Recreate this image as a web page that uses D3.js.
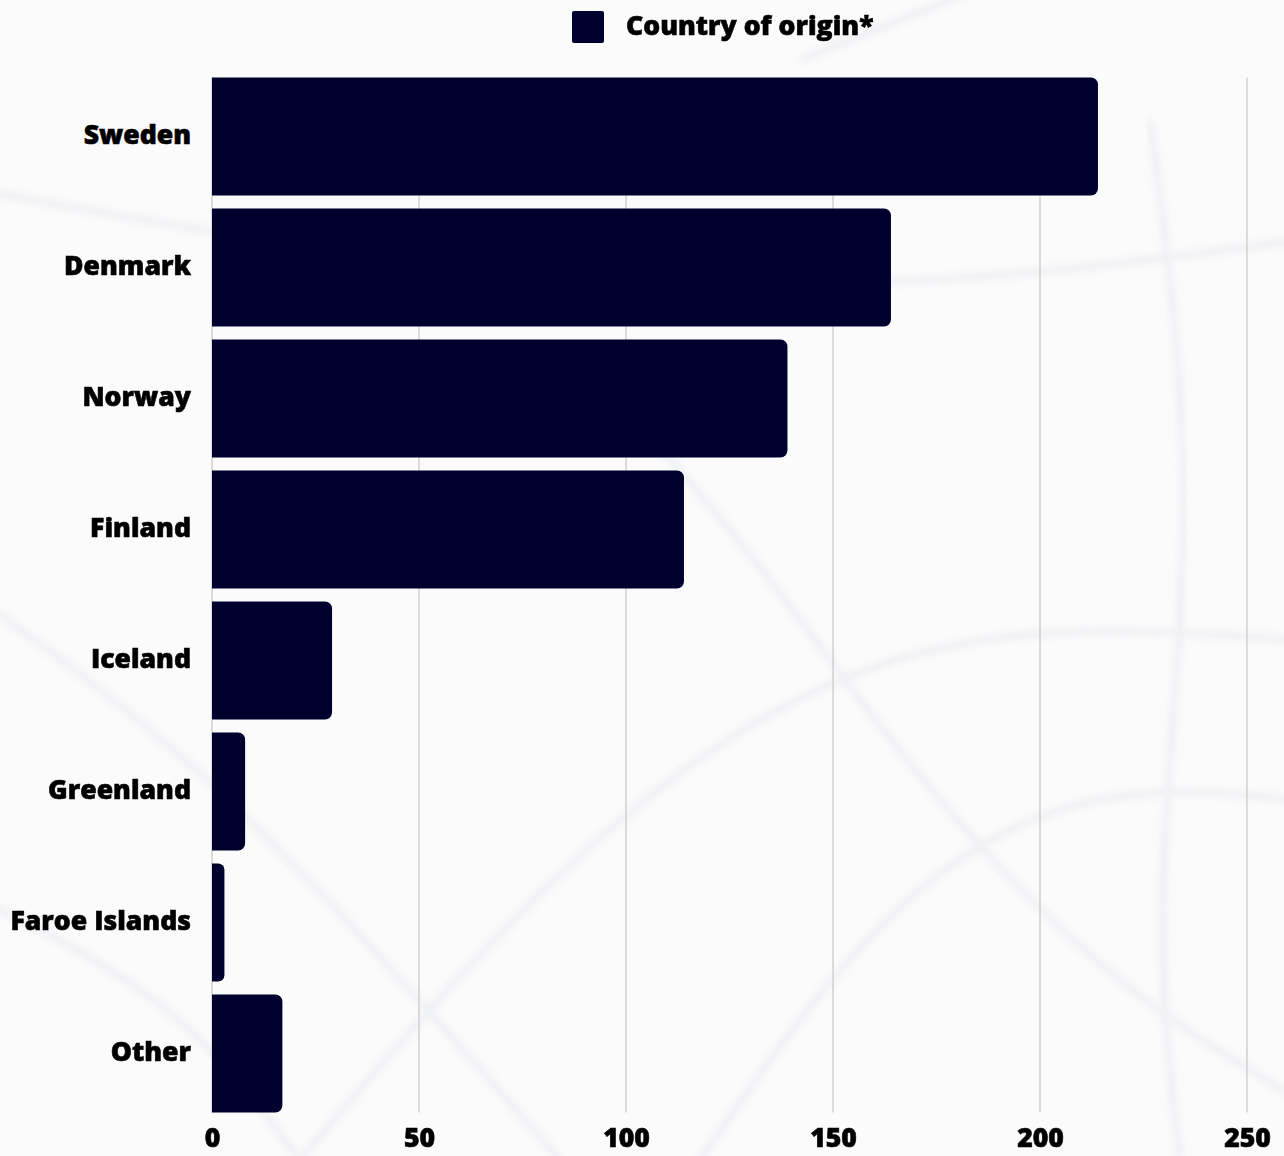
<!DOCTYPE html>
<html>
<head>
<meta charset="utf-8">
<script src="https://cdn.jsdelivr.net/npm/d3@7"></script>
<style>
  html, body { margin: 0; padding: 0; background: #fbfbfc; }
  svg { display: block; }
  text { font-family: "Open Sans", "Noto Sans", sans-serif; font-weight: 800; fill: #000; }
</style>
</head>
<body>
<svg id="chart" width="1284" height="1156"></svg>
<script>
// Nordic country of origin counts
const categories = ["Sweden", "Denmark", "Norway", "Finland", "Iceland", "Greenland", "Faroe Islands", "Other"];
const values = [214, 164, 139, 114, 29, 8, 3, 17];
const xTicks = [0, 50, 100, 150, 200, 250];
const seriesName = "Country of origin*";

const W = 1284, H = 1156;
const barColor = "#00002e";
const svg = d3.select("#chart");

// faint decorative wire curves in the backdrop
const bg = svg.append("g").attr("opacity", 0.45);
const defs = svg.append("defs");
defs.append("filter").attr("id", "soft").append("feGaussianBlur").attr("stdDeviation", 3);
const wire = d3.line().curve(d3.curveBasis);
const wires = [
  [[-20, 190], [300, 250], [700, 290], [1000, 280], [1300, 240]],
  [[-20, 600], [200, 760], [420, 1000], [560, 1160]],
  [[300, 1160], [520, 900], [760, 700], [1000, 620], [1300, 640]],
  [[600, 380], [760, 560], [900, 760], [1100, 980], [1300, 1100]],
  [[700, 1160], [880, 900], [1080, 780], [1300, 800]],
  [[-20, 900], [180, 1000], [300, 1160]],
  [[800, 60], [1000, -20]],
  [[1150, 120], [1200, 500], [1150, 900], [1180, 1160]]
];
bg.selectAll("path").data(wires).join("path")
  .attr("d", wire)
  .attr("fill", "none")
  .attr("stroke", "#e3e5e9")
  .attr("stroke-width", 8)
  .attr("filter", "url(#soft)");

const x = d3.scaleLinear().domain([0, 250]).range([212, 1247]);
const y = d3.scaleBand().domain(categories).range([71, 1119]).paddingInner(0.1).paddingOuter(0.05);

const gridTop = y(categories[0]);
const gridBottom = y(categories[categories.length - 1]) + y.bandwidth();

// vertical gridlines
svg.append("g").selectAll("line").data(xTicks).join("line")
  .attr("x1", d => x(d)).attr("x2", d => x(d))
  .attr("y1", gridTop).attr("y2", gridBottom)
  .attr("stroke", "#c6c6c6").attr("stroke-width", 1.2);

// bars with rounded right end
function barPath(x0, x1, y0, h, r) {
  const w = x1 - x0;
  r = Math.min(r, w / 2, h / 2);
  return `M${x0},${y0}H${x1 - r}A${r},${r} 0 0 1 ${x1},${y0 + r}` +
         `V${y0 + h - r}A${r},${r} 0 0 1 ${x1 - r},${y0 + h}H${x0}Z`;
}
svg.append("g").selectAll("path").data(categories).join("path")
  .attr("d", (c, i) => barPath(x(0), x(values[i]), y(c), y.bandwidth(), 7))
  .attr("fill", barColor);

function styleLabels(sel) {
  sel.attr("font-size", 26.6).attr("fill", "#000")
    .attr("stroke", "#000").attr("stroke-width", 0.6)
    .style("font-family", "'Open Sans', sans-serif").style("font-weight", 800);
}

// category labels
const yAxis = d3.axisLeft(y).tickSize(0).tickPadding(0);
const gy = svg.append("g").attr("transform", "translate(191,0)").call(yAxis);
gy.select(".domain").remove();
gy.selectAll("text").attr("dy", "0.29em").call(styleLabels);

// value axis labels
const xAxis = d3.axisBottom(x).tickValues(xTicks).tickSize(0).tickPadding(0);
const gx = svg.append("g").attr("transform", "translate(0,1147)").call(xAxis);
gx.select(".domain").remove();
gx.selectAll("text").attr("dy", 0).attr("y", 0).call(styleLabels);

// legend
const lg = svg.append("g");
lg.append("rect").attr("x", 572).attr("y", 11).attr("width", 32).attr("height", 32)
  .attr("rx", 2).attr("fill", barColor);
lg.append("text").attr("x", 626).attr("y", 35).attr("font-size", 26.6)
  .attr("stroke", "#000").attr("stroke-width", 0.6).text(seriesName);
</script>
</body>
</html>
